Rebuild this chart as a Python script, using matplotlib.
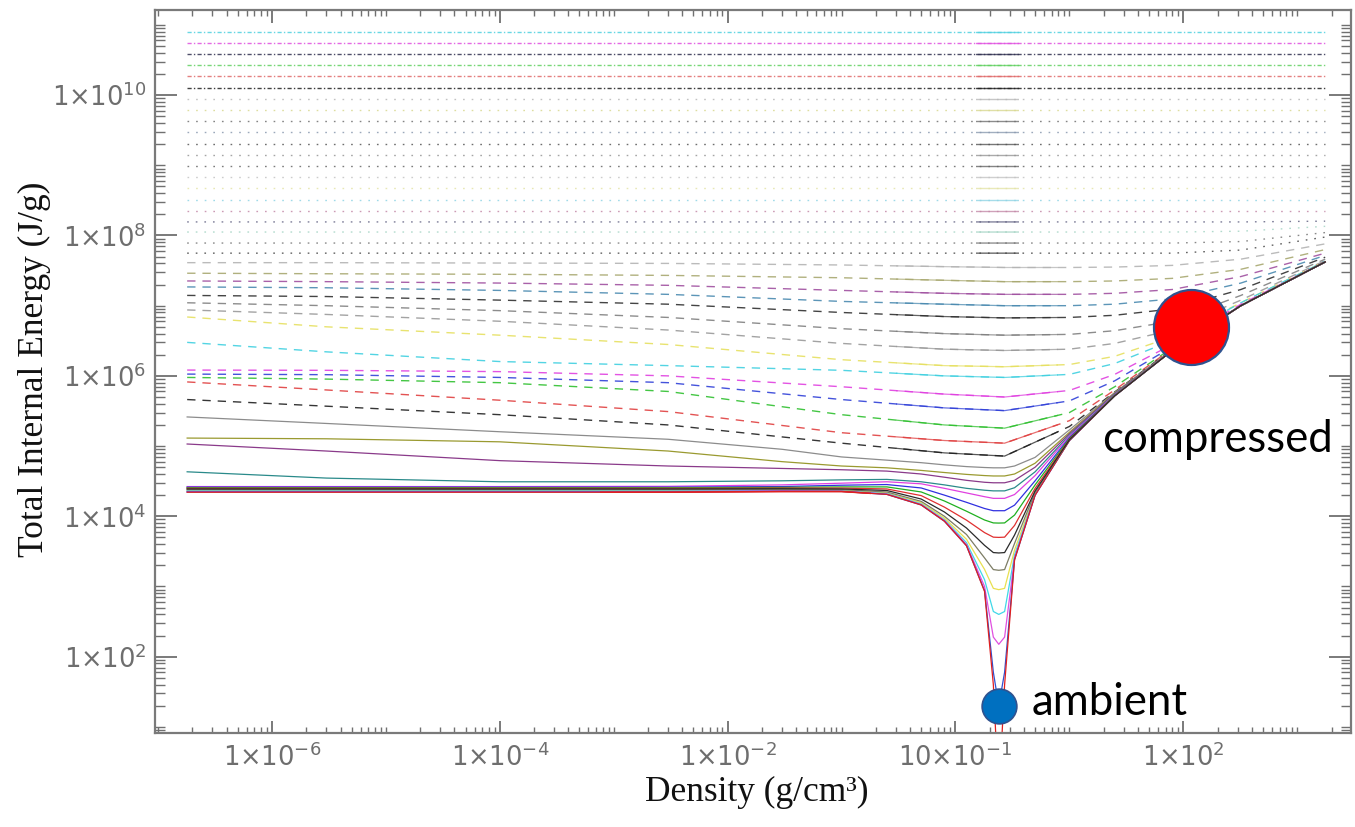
import matplotlib
matplotlib.use("Agg")
import matplotlib.pyplot as plt
from matplotlib.ticker import FixedLocator, FixedFormatter, LogLocator, NullFormatter
from matplotlib.transforms import blended_transform_factory
from matplotlib.patches import Rectangle

plt.rcParams['mathtext.fontset'] = 'custom'
plt.rcParams['mathtext.rm'] = 'Liberation Mono'
plt.rcParams['mathtext.it'] = 'Liberation Mono'
plt.rcParams['mathtext.bf'] = 'Liberation Mono'

# ---------------------------------------------------------------- data
# density grid of the cold / low-temperature isotherms (g/cm^3)
density_cold = [1.8e-7, 3e-6, 1e-4, 3e-3, 3e-2, 0.1, 0.25, 0.5, 0.8, 1.25, 1.8,
                2.15, 2.4, 2.7, 3.3, 5.0, 10, 25, 80, 320, 1760]

# low-temperature isotherms, internal energy (J/g)
e_iso01 = [2.2e4, 2.2e4, 2.2e4, 2.2e4, 2.25e4, 2.25e4, 2.05e4, 1.45e4, 8.5e3, 3.8e3, 850,
           40, 1, 40, 2.4e3, 2.0e4, 1.2e5, 5.2e5, 2.3e6, 1.0e7, 4.2e7]
e_iso02 = [2.22e4, 2.22e4, 2.22e4, 2.22e4, 2.27e4, 2.26e4, 2.05e4, 1.45e4, 8.5e3, 3.8e3, 870,
           60, 20, 60, 2.4e3, 2.0e4, 1.2e5, 5.2e5, 2.3e6, 1.0e7, 4.2e7]
e_iso03 = [2.25e4, 2.25e4, 2.25e4, 2.25e4, 2.3e4, 2.28e4, 2.07e4, 1.47e4, 8.7e3, 3.95e3, 1.0e3,
           190, 150, 190, 2.55e3, 2.0e4, 1.2e5, 5.2e5, 2.3e6, 1.0e7, 4.2e7]
e_iso04 = [2.3e4, 2.3e4, 2.3e4, 2.3e4, 2.33e4, 2.31e4, 2.1e4, 1.5e4, 8.9e3, 4.2e3, 1.25e3,
           440, 400, 440, 2.8e3, 2.05e4, 1.2e5, 5.2e5, 2.3e6, 1.0e7, 4.2e7]
e_iso05 = [2.35e4, 2.35e4, 2.35e4, 2.35e4, 2.38e4, 2.35e4, 2.15e4, 1.56e4, 9.4e3, 4.7e3, 1.75e3,
           940, 900, 940, 3.3e3, 2.1e4, 1.2e5, 5.2e5, 2.3e6, 1.0e7, 4.2e7]
e_iso06 = [2.4e4, 2.4e4, 2.4e4, 2.4e4, 2.42e4, 2.4e4, 2.22e4, 1.63e4, 1.0e4, 5.5e3, 2.55e3,
           1.74e3, 1.7e3, 1.74e3, 4.1e3, 2.2e4, 1.22e5, 5.2e5, 2.3e6, 1.0e7, 4.2e7]
e_iso07 = [2.45e4, 2.45e4, 2.45e4, 2.45e4, 2.47e4, 2.45e4, 2.33e4, 1.76e4, 1.15e4, 6.8e3, 3.85e3,
           3.04e3, 3.0e3, 3.04e3, 5.4e3, 2.3e4, 1.23e5, 5.2e5, 2.3e6, 1.0e7, 4.2e7]
e_iso08 = [2.5e4, 2.5e4, 2.5e4, 2.5e4, 2.52e4, 2.52e4, 2.45e4, 1.97e4, 1.35e4, 8.8e3, 5.85e3,
           5.04e3, 5.0e3, 5.04e3, 7.4e3, 2.5e4, 1.25e5, 5.25e5, 2.3e6, 1.0e7, 4.2e7]
e_iso09 = [2.55e4, 2.55e4, 2.55e4, 2.55e4, 2.58e4, 2.62e4, 2.62e4, 2.22e4, 1.65e4, 1.18e4, 8.85e3,
           8.04e3, 8.0e3, 8.04e3, 1.04e4, 2.8e4, 1.28e5, 5.3e5, 2.3e6, 1.0e7, 4.2e7]
e_iso10 = [2.6e4, 2.6e4, 2.6e4, 2.6e4, 2.65e4, 2.77e4, 2.83e4, 2.53e4, 2.0e4, 1.58e4, 1.29e4,
           1.2e4, 1.2e4, 1.2e4, 1.44e4, 3.2e4, 1.32e5, 5.3e5, 2.3e6, 1.0e7, 4.2e7]
e_iso11 = [2.65e4, 2.65e4, 2.65e4, 2.67e4, 2.8e4, 2.96e4, 3.1e4, 2.9e4, 2.5e4, 2.15e4, 1.9e4,
           1.8e4, 1.8e4, 1.8e4, 2.04e4, 3.8e4, 1.38e5, 5.4e5, 2.3e6, 1.0e7, 4.2e7]
e_iso12 = [4.3e4, 3.5e4, 3.1e4, 3.1e4, 3.2e4, 3.3e4, 3.35e4, 3.1e4, 2.8e4, 2.5e4, 2.35e4,
           2.3e4, 2.3e4, 2.3e4, 2.55e4, 4.3e4, 1.43e5, 5.5e5, 2.3e6, 1.0e7, 4.2e7]
e_iso13 = [1.07e5, 8.5e4, 6.2e4, 5.2e4, 4.8e4, 4.6e4, 4.4e4, 4.0e4, 3.6e4, 3.25e4, 3.05e4,
           3.0e4, 3.0e4, 3.0e4, 3.25e4, 5.0e4, 1.5e5, 5.6e5, 2.3e6, 1.0e7, 4.2e7]
e_iso14 = [1.3e5, 1.27e5, 1.15e5, 8.5e4, 6.0e4, 5.2e4, 4.9e4, 4.5e4, 4.2e4, 3.95e4, 3.8e4,
           3.75e4, 3.75e4, 3.75e4, 4.0e4, 5.7e4, 1.57e5, 5.7e5, 2.3e6, 1.0e7, 4.2e7]
e_iso15 = [2.6e5, 2.1e5, 1.6e5, 1.25e5, 9.0e4, 7.0e4, 6.3e4, 5.8e4, 5.4e4, 5.1e4, 4.95e4,
           4.9e4, 4.9e4, 4.9e4, 5.2e4, 6.9e4, 1.7e5, 5.8e5, 2.35e6, 1.0e7, 4.2e7]

# density grid of the intermediate isotherms (g/cm^3)
density_warm = [1.8e-7, 3e-6, 1e-4, 3e-3, 0.1, 0.8, 2.7, 10, 25, 80, 320, 1760]

e_iso16 = [4.6e5, 3.7e5, 2.8e5, 2.0e5, 1.1e5, 8.0e4, 7.2e4, 1.9e5, 5.9e5, 2.4e6, 1.0e7, 4.2e7]
e_iso17 = [8.2e5, 6.3e5, 4.5e5, 3.1e5, 1.55e5, 1.2e5, 1.1e5, 2.3e5, 6.3e5, 2.45e6, 1.0e7, 4.2e7]
e_iso18 = [9.5e5, 9.0e5, 8.0e5, 6.0e5, 2.8e5, 2.0e5, 1.8e5, 3.0e5, 7.0e5, 2.5e6, 1.0e7, 4.2e7]
e_iso19 = [1.06e6, 1.04e6, 9.5e5, 8.0e5, 4.6e5, 3.5e5, 3.2e5, 4.4e5, 8.5e5, 2.6e6, 1.0e7, 4.2e7]
e_iso20 = [1.21e6, 1.2e6, 1.15e6, 1.0e6, 7.0e5, 5.5e5, 5.0e5, 6.2e5, 1.05e6, 2.8e6, 1.05e7, 4.2e7]
e_iso21 = [3.0e6, 2.2e6, 1.6e6, 1.4e6, 1.2e6, 1.0e6, 9.5e5, 1.05e6, 1.5e6, 3.2e6, 1.1e7, 4.3e7]
e_iso22 = [6.9e6, 5.0e6, 3.8e6, 2.8e6, 1.7e6, 1.4e6, 1.35e6, 1.45e6, 1.9e6, 3.6e6, 1.1e7, 4.3e7]
e_iso23 = [8.7e6, 7.5e6, 6.0e6, 4.5e6, 2.9e6, 2.4e6, 2.3e6, 2.4e6, 2.9e6, 4.5e6, 1.2e7, 4.4e7]
e_iso24 = [1.1e7, 1.0e7, 8.5e6, 6.8e6, 4.7e6, 4.0e6, 3.8e6, 3.9e6, 4.4e6, 6.0e6, 1.4e7, 4.6e7]
e_iso25 = [1.4e7, 1.35e7, 1.2e7, 1.05e7, 8.0e6, 7.0e6, 6.7e6, 6.8e6, 7.3e6, 9.0e6, 1.7e7, 4.9e7]
e_iso26 = [1.85e7, 1.8e7, 1.65e7, 1.45e7, 1.15e7, 1.05e7, 1.0e7, 1.0e7, 1.05e7, 1.25e7, 2.1e7, 5.2e7]
e_iso27 = [2.25e7, 2.2e7, 2.1e7, 1.95e7, 1.65e7, 1.5e7, 1.45e7, 1.45e7, 1.5e7, 1.7e7, 2.6e7, 5.6e7]
e_iso28 = [2.9e7, 2.85e7, 2.8e7, 2.7e7, 2.5e7, 2.3e7, 2.2e7, 2.2e7, 2.25e7, 2.45e7, 3.3e7, 6.3e7]
e_iso29 = [4.1e7, 4.1e7, 4.05e7, 4.0e7, 3.8e7, 3.6e7, 3.5e7, 3.5e7, 3.55e7, 3.75e7, 4.6e7, 7.6e7]

# density grid of the hot isotherms (g/cm^3)
density_hot = [1.8e-7, 80, 320, 1760]
# hot isotherms: plateau level, value at 320 g/cm^3, value at the last density
e_hot_level = [7.9e10, 5.5e10, 3.85e10, 2.7e10, 1.87e10, 1.26e10, 8.8e9, 6.1e9, 4.3e9,
               3.0e9, 2.0e9, 1.4e9, 9.8e8, 6.8e8, 4.75e8, 3.2e8, 2.2e8, 1.56e8, 1.12e8,
               7.8e7, 5.6e7]
e_hot_knee = [7.9e10, 5.5e10, 3.85e10, 2.7e10, 1.87e10, 1.26e10, 8.8e9, 6.1e9, 4.3e9,
              3.0e9, 2.0e9, 1.4e9, 9.8e8, 6.8e8, 4.75e8, 3.2e8, 2.2e8, 1.56e8, 1.15e8,
              8.2e7, 6.2e7]
e_hot_end = [7.9e10, 5.5e10, 3.85e10, 2.7e10, 1.87e10, 1.26e10, 8.8e9, 6.1e9, 4.3e9,
             3.0e9, 2.0e9, 1.4e9, 9.8e8, 6.8e8, 4.75e8, 3.2e8, 2.2e8, 1.6e8, 1.35e8,
             1.1e8, 9.5e7]

# marked states
ambient_density, ambient_energy = 2.4, 20.0
compressed_density, compressed_energy = 116.0, 4.9e6

x_tick_values = [1e-6, 1e-4, 1e-2, 1e0, 1e2]
x_tick_labels = ['1×10^{-6}', '1×10^{-4}', '1×10^{-2}', '10×10^{-1}', '1×10^{2}']
y_tick_values = [1e2, 1e4, 1e6, 1e8, 1e10]
y_tick_labels = ['1×10^{2}', '1×10^{4}', '1×10^{6}', '1×10^{8}', '1×10^{10}']

# ---------------------------------------------------------------- styles
# drawing order: coloured isotherms first, the dark ones on top of the vapour band
cold_curves = [
    (e_iso15, '#8c8c8c'), (e_iso14, '#9a9a30'), (e_iso13, '#8a3a8a'), (e_iso12, '#2a8a8a'),
    (e_iso11, '#e040e0'), (e_iso10, '#3030e0'), (e_iso09, '#20b020'), (e_iso08, '#e03030'),
    (e_iso05, '#e8e050'), (e_iso04, '#40d8e8'), (e_iso03, '#e050e0'), (e_iso02, '#3050d0'),
    (e_iso01, '#e02020'), (e_iso06, '#7c7c64'), (e_iso07, '#2a2a2a'),
]
warm_curves = [
    (e_iso29, '#b4b4b4'), (e_iso28, '#a8a870'), (e_iso27, '#a050a0'), (e_iso26, '#4a8ab0'),
    (e_iso25, '#303030'), (e_iso24, '#808080'), (e_iso23, '#999999'), (e_iso22, '#e6e060'),
    (e_iso21, '#40d0e0'), (e_iso20, '#e040e0'), (e_iso19, '#3040d8'), (e_iso18, '#30c030'),
    (e_iso17, '#e04040'), (e_iso16, '#202020'),
]
hot_colors = ['#50d0e0', '#e050e0', '#303050', '#60d060', '#e06a6a', '#202020',
              '#b8b8b8', '#d8d890', '#707070', '#8a9ab0', '#555555', '#959595',
              '#656565', '#c4c4c4', '#e4e4a8', '#90d4e4', '#c48aa8', '#656585',
              '#a4d4c4', '#757575', '#454545']
hot_styles = ['dashdot'] * 6 + ['dotted'] * 15

# ---------------------------------------------------------------- figure
fig = plt.figure(figsize=(13.55, 8.27), dpi=100)
ax = fig.add_axes([0.1144, 0.1131, 0.8827, 0.8748])
ax.set_xscale('log')
ax.set_yscale('log')
ax.set_xlim(9.4e-8, 2970)
ax.set_ylim(8.05, 1.63e11)

band = blended_transform_factory(ax.transData, ax.transAxes)


def clip_to(line, x0, x1):
    rect = Rectangle((x0, 0), x1 - x0, 1, transform=band, facecolor='none', edgecolor='none')
    ax.add_patch(rect)
    line.set_clip_path(rect)


# hot isotherms: flat dotted / dash-dot lines
for lvl, knee, end, col, sty in zip(e_hot_level, e_hot_knee, e_hot_end, hot_colors, hot_styles):
    ys = [lvl, lvl, knee, end]
    dash = (0, (3, 1.6, 1, 1.6)) if sty == 'dashdot' else (0, (1.2, 5))
    ax.plot(density_hot, ys, color=col, lw=1.0, ls=dash, alpha=0.85)
    seg, = ax.plot(density_hot, ys, color=col, lw=1.0, ls='-', alpha=0.8)
    clip_to(seg, 1.5, 3.6)

# intermediate isotherms: dashed
for ys, col in warm_curves:
    ax.plot(density_warm, ys, color=col, lw=1.0, ls=(0, (6, 5)), alpha=0.9)
    seg, = ax.plot(density_warm, ys, color=col, lw=0.9, ls='-', alpha=0.75)
    clip_to(seg, 0.3, 8.0)

# low-temperature isotherms: solid
for ys, col in cold_curves:
    ax.plot(density_cold, ys, color=col, lw=0.9, ls='-')
seg, = ax.plot(density_cold, e_iso01, color='#e02020', lw=1.1)
clip_to(seg, 7.6e-4, 0.18)

# marked states
ax.plot([compressed_density], [compressed_energy], 'o', ms=54, mfc='#ff0000',
        mec='#2f528f', mew=1.6, zorder=8, clip_on=False)
ax.plot([ambient_density], [ambient_energy], 'o', ms=25, mfc='#0070c0',
        mec='#2f528f', mew=1.2, zorder=8, clip_on=False)
ax.text(0.792, 0.389, 'compressed', transform=ax.transAxes, fontfamily='Lato',
        fontsize=31.5, ha='left', va='baseline', color='black', zorder=9)
ax.text(0.733, 0.0256, 'ambient', transform=ax.transAxes, fontfamily='Lato',
        fontsize=31.5, ha='left', va='baseline', color='black', zorder=9)

# ---------------------------------------------------------------- axes styling
ax.xaxis.set_major_locator(FixedLocator(x_tick_values))
ax.xaxis.set_major_formatter(FixedFormatter([r'$\mathregular{%s}$' % t for t in x_tick_labels]))
ax.yaxis.set_major_locator(FixedLocator(y_tick_values))
ax.yaxis.set_major_formatter(FixedFormatter([r'$\mathregular{%s}$' % t for t in y_tick_labels]))
for axis in (ax.xaxis, ax.yaxis):
    axis.set_minor_locator(LogLocator(base=10, subs=(1, 2, 3, 4, 5, 6, 7, 8, 9), numticks=200))
    axis.set_minor_formatter(NullFormatter())

ax.tick_params(axis='both', which='both', direction='in', colors='#707070',
               top=True, right=True)
ax.tick_params(axis='y', which='major', length=16, width=1.3, pad=6,
               labelsize=18.5, labelcolor='#6e6e6e')
ax.tick_params(axis='y', which='minor', length=7, width=1.0)
ax.tick_params(axis='x', which='major', length=9, width=1.3, pad=7,
               labelsize=18.5, labelcolor='#6e6e6e')
ax.tick_params(axis='x', which='minor', length=4.5, width=1.0)
for sp in ax.spines.values():
    sp.set_color('#7a7a7a')
    sp.set_linewidth(1.6)

fig.text(43 / 1355, 1 - 369 / 827, 'Total Internal Energy (J/g)', rotation=90,
         rotation_mode='anchor', ha='center', va='baseline',
         fontfamily='Liberation Serif', fontsize=25.5, color='#111111')
fig.text(757 / 1355, 1 - 801 / 827, 'Density (g/cm³)', ha='center', va='baseline',
         fontfamily='Liberation Serif', fontsize=25.5, color='#111111')

fig.savefig('out.png', dpi=100)
